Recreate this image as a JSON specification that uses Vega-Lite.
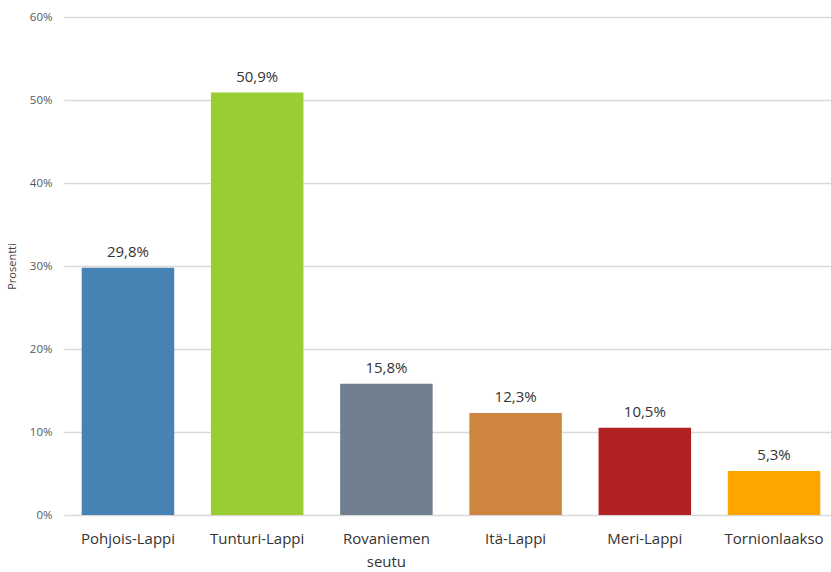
{
  "$schema": "https://vega.github.io/schema/vega-lite/v6.json",
  "width": 766,
  "height": 498,
  "autosize": {"type": "none"},
  "padding": {"left": 64, "top": 17, "right": 1, "bottom": 57},
  "background": "#ffffff",
  "config": {
    "view": {"stroke": null},
    "font": "Open Sans",
    "locale": {"number": {"decimal": ",", "thousands": " ", "grouping": [3], "currency": ["", " €"]}}
  },
  "data": {
    "values": [
      {"alue": "Pohjois-Lappi", "osuus": 0.298},
      {"alue": "Tunturi-Lappi", "osuus": 0.509},
      {"alue": "Rovaniemen seutu", "osuus": 0.158},
      {"alue": "Itä-Lappi", "osuus": 0.123},
      {"alue": "Meri-Lappi", "osuus": 0.105},
      {"alue": "Tornionlaakso", "osuus": 0.053}
    ]
  },
  "encoding": {
    "x": {
      "field": "alue", "type": "nominal", "sort": null,
      "scale": {"paddingInner": 0.284, "paddingOuter": 0.137, "range": [0, 774]},
      "axis": {
        "title": null, "labelAngle": 0, "ticks": false, "domain": false,
        "labelFontSize": 15, "labelColor": "#333333", "labelPadding": 16,
        "labelExpr": "split(datum.label, ' ')", "labelLineHeight": 23
      }
    },
    "y": {
      "field": "osuus", "type": "quantitative",
      "scale": {"domain": [0, 0.6]},
      "axis": {
        "title": "Prosentti", "titleFontSize": 11, "titleFontWeight": "normal", "titleColor": "#404040",
        "titlePadding": 12,
        "format": ".0%", "values": [0, 0.1, 0.2, 0.3, 0.4, 0.5, 0.6], "labelOverlap": false,
        "labelFontSize": 11.5, "labelColor": "#595959", "labelPadding": 12,
        "ticks": false, "domain": false,
        "grid": true, "gridColor": "#d9d9d9", "gridWidth": 1.3
      }
    }
  },
  "layer": [
    {
      "mark": {"type": "bar"},
      "encoding": {
        "color": {
          "field": "alue", "type": "nominal", "sort": null, "legend": null,
          "scale": {
            "domain": ["Pohjois-Lappi", "Tunturi-Lappi", "Rovaniemen seutu", "Itä-Lappi", "Meri-Lappi", "Tornionlaakso"],
            "range": ["#4682b4", "#9acd32", "#708090", "#cd853f", "#b22222", "#ffa500"]
          }
        }
      }
    },
    {
      "mark": {"type": "text", "dy": -16, "fontSize": 15, "color": "#333333"},
      "encoding": {
        "text": {"field": "osuus", "type": "quantitative", "format": ".1%"}
      }
    }
  ]
}
